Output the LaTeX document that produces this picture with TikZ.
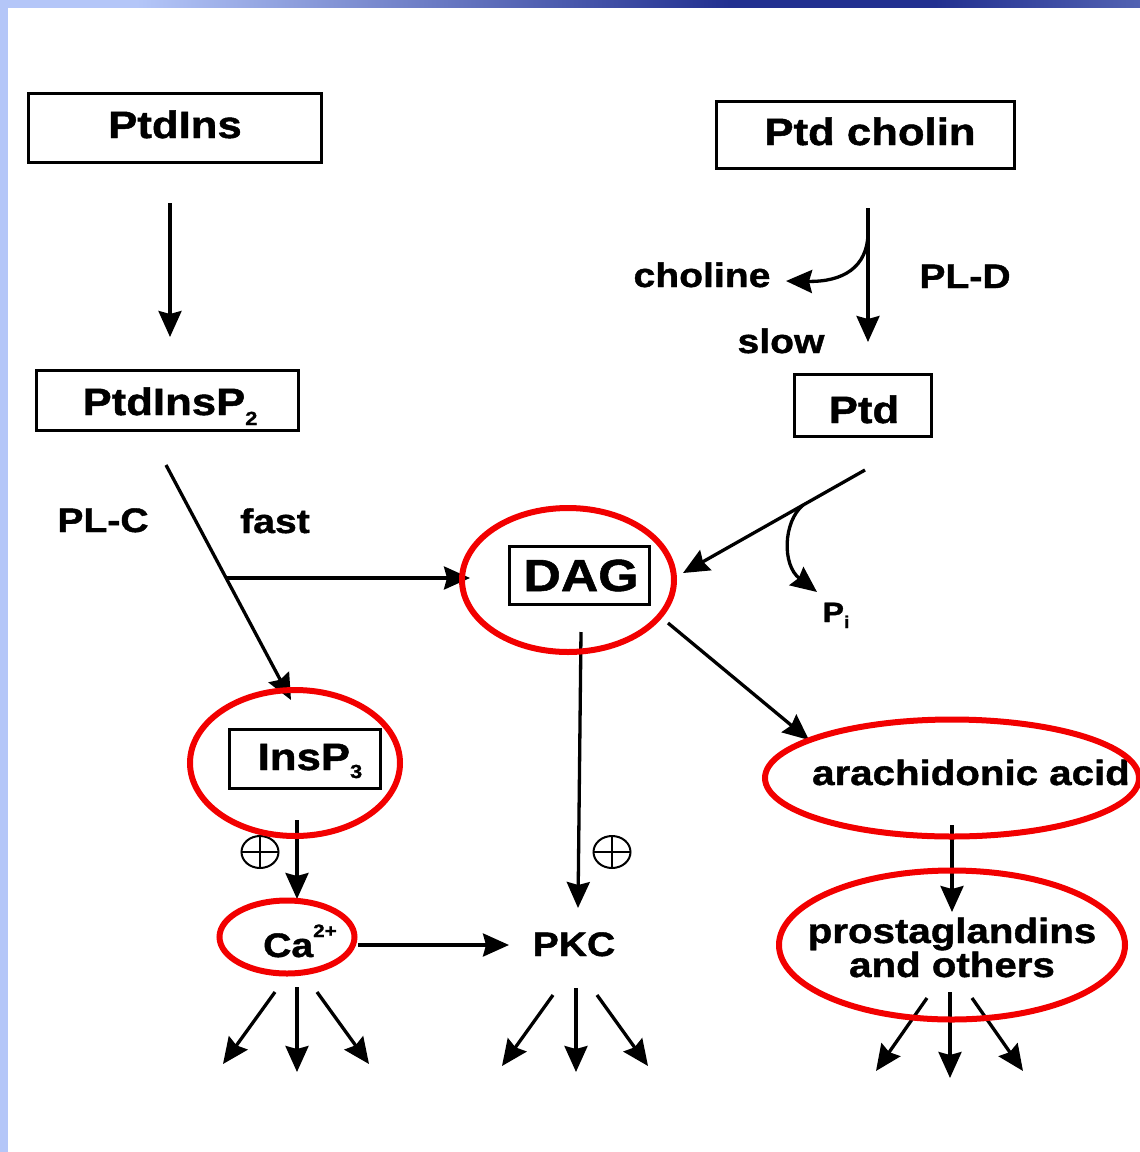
\documentclass[tikz,border=0pt]{standalone}
\usepackage{fontspec}
\setmainfont{Liberation Sans}[FakeStretch=1.15, BoldFeatures={FakeBold=1.2}]
\usetikzlibrary{arrows.meta,shapes.geometric}
\definecolor{barlight}{HTML}{B4C6F8}
\definecolor{bardark}{HTML}{223090}
\definecolor{barright}{HTML}{5262B2}
\definecolor{ovalred}{HTML}{F20000}
\pgfdeclarehorizontalshading{topbar}{100bp}{color(0bp)=(barlight); color(31bp)=(barlight); color(57bp)=(bardark); color(66bp)=(bardark); color(75bp)=(barright); color(100bp)=(barright)}
\newcommand\fsz[1]{\fontsize{#1}{#1}\selectfont}
\newcommand\dn[2]{\raisebox{-#1pt}{\fsz{19}#2}}
\begin{document}
\begin{tikzpicture}[x=1pt,y=-1pt,
  box/.style={draw, line width=3pt, inner sep=0pt},
  boxlab/.style={font=\bfseries\fsz{38}, inner sep=0pt, anchor=base},
  lab/.style={font=\bfseries\fsz{34}, inner sep=0pt, anchor=base},
  oval/.style={draw=ovalred, line width=6pt, ellipse, inner sep=0pt},
  plusmark/.style={draw, ellipse, line width=2pt, minimum width=37pt, minimum height=32pt, inner sep=0pt,
    path picture={\draw[line width=2pt] (path picture bounding box.north) -- (path picture bounding box.south)
      (path picture bounding box.west) -- (path picture bounding box.east);}},
  conn/.style={line width=3.3pt, -{Stealth[length=26pt,width=23pt,inset=3pt]}}]
\useasboundingbox (0,0) rectangle (1140,1152);
\fill[white] (0,0) rectangle (1140,1152);
\fill[barlight] (0,0) rectangle (8,1152);
\shade[shading=topbar] (0,0) rectangle (1140,7);

% boxes
\node[box, minimum width=293pt, minimum height=69pt] (ptdins) at (175,128) {};
\node[box, minimum width=262pt, minimum height=60pt] (pip2) at (167,400) {};
\node[box, minimum width=298pt, minimum height=67pt] (ptdch) at (865,135) {};
\node[box, minimum width=137pt, minimum height=62pt] (ptd) at (863,405) {};
\node[box, minimum width=140pt, minimum height=58pt] (dag) at (579,575) {};
\node[box, minimum width=151pt, minimum height=59pt] (insp) at (305,759) {};

% box texts
\node[boxlab] (tptdins) at (175,138) {PtdIns};
\node[boxlab] (tpip2) at (170,415) {PtdInsP\dn{10}{2}};
\node[boxlab] (tptdch) at (870,145) {Ptd cholin};
\node[boxlab] (tptd) at (864,423) {Ptd};
\node[boxlab, font=\bfseries\fsz{45}] (tdag) at (581,591) {DAG};
\node[boxlab] (tinsp) at (310,770) {InsP\dn{8}{3}};

% labels
\node[lab] (choline) at (702,287) {choline};
\node[lab] (pld) at (965,288) {PL-D};
\node[lab] (slow) at (781,353) {slow};
\node[lab] (plc) at (103,532) {PL-C};
\node[lab] (fast) at (275,533) {fast};
\node[lab] (pkc) at (574,956) {PKC};
\node[lab, font=\bfseries\fsz{35}] (arach) at (971,785) {arachidonic acid};
\node[lab, font=\bfseries\fsz{35}] (prosta) at (952,943) {prostaglandins};
\node[lab, font=\bfseries\fsz{35}] (others) at (952,977) {and others};
\node[lab] (ca) at (300,957) {Ca\raisebox{20pt}{\fsz{18}2+}};
\node[lab, font=\bfseries\fsz{28}] (pi) at (836,622) {P\raisebox{-6pt}{\fsz{17}i}};

% plus signs
\node[plusmark] (plus1) at (260,852) {};
\node[plusmark] (plus2) at (612,852) {};

% connector end points
\coordinate (a1s) at (170,203);   \coordinate (a1e) at (170,337);
\coordinate (a2s) at (166,465);   \coordinate (a2e) at (291,700);
\coordinate (a3s) at (226,578);   \coordinate (a3e) at (470,578);
\coordinate (a4s) at (868,208);   \coordinate (a4e) at (868,342);
\coordinate (a5s) at (868,232);   \coordinate (a5e) at (786,281);
\coordinate (a6s) at (865,470);   \coordinate (a6e) at (683,573);
\coordinate (a7s) at (803,505);   \coordinate (a7e) at (817,592);
\coordinate (a8s) at (581,632);   \coordinate (a8e) at (578,908);
\coordinate (a9s) at (668,623);   \coordinate (a9e) at (809,740);
\coordinate (a10s) at (297,820);  \coordinate (a10e) at (297,899);
\coordinate (a11s) at (358,945);  \coordinate (a11e) at (509,945);
\coordinate (a12s) at (952,825);  \coordinate (a12e) at (952,912);

\draw[conn] (a1s) -- (a1e);
\draw[conn] (a2s) -- (a2e);
\draw[conn] (a3s) -- (a3e);
\draw[conn] (a4s) -- (a4e);
\draw[conn] (a5s) .. controls (868,268) and (842,282) .. (a5e);
\draw[conn] (a6s) -- (a6e);
\draw[conn] (a7s) .. controls (783,522) and (782,565) .. (a7e);
\draw[conn] (a8s) -- (a8e);
\draw[conn] (a9s) -- (a9e);
\draw[conn] (a10s) -- (a10e);
\draw[conn] (a11s) -- (a11e);
\draw[conn] (a12s) -- (a12e);

% fans
\coordinate (c1s) at (275,992); \coordinate (c1e) at (223,1064);
\coordinate (c2s) at (297,987); \coordinate (c2e) at (297,1072);
\coordinate (c3s) at (317,992); \coordinate (c3e) at (369,1064);
\coordinate (k1s) at (553,995); \coordinate (k1e) at (502,1066);
\coordinate (k2s) at (576,988); \coordinate (k2e) at (576,1072);
\coordinate (k3s) at (597,995); \coordinate (k3e) at (648,1066);
\coordinate (p1s) at (927,998); \coordinate (p1e) at (876,1071);
\coordinate (p2s) at (950,992); \coordinate (p2e) at (950,1078);
\coordinate (p3s) at (972,998); \coordinate (p3e) at (1023,1071);
\foreach \s/\e in {c1s/c1e,c2s/c2e,c3s/c3e,k1s/k1e,k2s/k2e,k3s/k3e,p1s/p1e,p2s/p2e,p3s/p3e}
  \draw[conn] (\s) -- (\e);

% red ovals
\node[oval, minimum width=212pt, minimum height=144pt] (dagO) at (568,580) {};
\node[oval, minimum width=210pt, minimum height=146pt] (inspO) at (295,763) {};
\node[oval, minimum width=135pt, minimum height=73pt] (caO) at (287,937) {};
\node[oval, minimum width=374pt, minimum height=117pt] (arO) at (952,778) {};
\node[oval, minimum width=346pt, minimum height=149pt] (prO) at (952,945) {};
\end{tikzpicture}
\end{document}
